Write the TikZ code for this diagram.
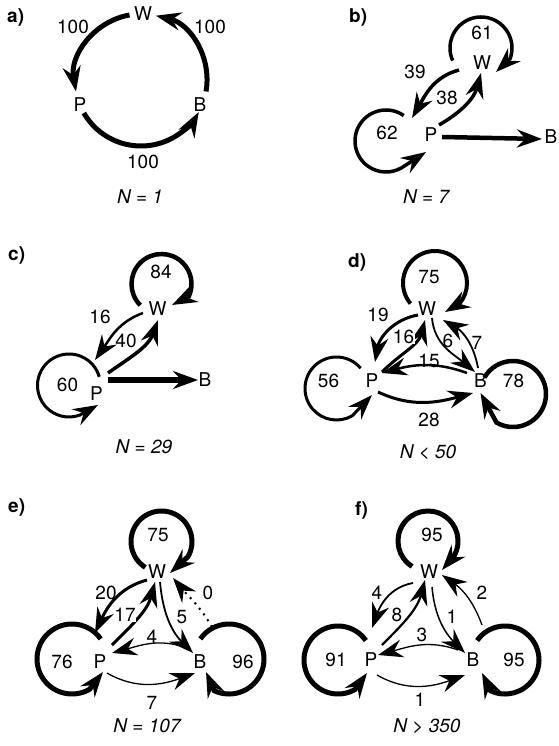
\documentclass[tikz,border=0pt]{standalone}
\usepackage{fontspec}
\setmainfont{TeX Gyre Heros}
\usetikzlibrary{arrows.meta}
\tikzset{
  arr/.style={-{Stealth[length=25pt,width=18pt,inset=8.5pt]}},
  st/.style={inner sep=0pt, font=\fontsize{19}{22}\selectfont},
  lbl/.style={inner sep=0.5pt, font=\fontsize{19}{22}\selectfont},
  wlbl/.style={lbl, fill=white},
  ttl/.style={inner sep=0pt, anchor=west, font=\fontsize{19}{22}\selectfont\bfseries},
  capn/.style={inner sep=0pt, font=\fontsize{19}{22}\selectfont\itshape},
}
% center, radius, start angle, end angle, tip, width
\newcommand\sloop[6]{%
  \draw[arr, line width=#6] ([shift={(#3:#2)}]#1) arc[start angle=#3, end angle=#4, radius=#2] -- #5;}
\begin{document}
\begin{tikzpicture}[x=1pt,y=1pt]
\useasboundingbox (0,0) rectangle (558,-746);

% ---------------- a)
\node[ttl] (ta) at (7,-17) {a)};
\node[st] (aW) at (143,-14) {W};
\node[st] (aP) at (80,-105) {P};
\node[st] (aB) at (200,-105) {B};
\coordinate (ac) at (141,-80);
\draw[arr, line width=5pt] ([shift={(100:66)}]ac) arc[start angle=100, end angle=190, radius=66];
\draw[arr, line width=5pt] ([shift={(210:66)}]ac) arc[start angle=210, end angle=331, radius=66];
\draw[arr, line width=5pt] ([shift={(-10:66)}]ac) arc[start angle=-10, end angle=77, radius=66];
\node[lbl] (a1) at (73,-27) {100};
\node[lbl] (a2) at (210,-27) {100};
\node[lbl] (a3) at (143,-162) {100};
\node[capn] (ca) at (140,-197) {N = 1};

% ---------------- b)
\node[ttl] (tb) at (349,-17) {b)};
\node[st] (bW) at (482,-63) {W};
\node[st] (bP) at (431,-135) {P};
\node[st] (bB) at (551,-137) {B};
\coordinate (bWc) at (481,-48);
\coordinate (bPc) at (386,-141);
\sloop{bWc}{31}{204}{-20}{([shift={(14,-9)}]bW.center)}{3.5pt}
\sloop{bPc}{31}{55}{300}{([shift={(-5,-17)}]bP.center)}{3.5pt}
\draw[arr, line width=3.5pt] ([shift={(-23,-7)}]bW.center) to[out=195,in=60] ([shift={(-19,17)}]bP.center);
\draw[arr, line width=3.5pt] ([shift={(8,10)}]bP.center) to[out=30,in=255] ([shift={(-1,-10)}]bW.center);
\draw[arr, line width=4.5pt] ([shift={(11,-2)}]bP.center) -- ([shift={(-9,-2)}]bB.center);
\node[lbl] (b1) at (482,-33) {61};
\node[lbl] (b2) at (387,-133) {62};
\node[lbl] (b3) at (415,-72) {39};
\node[lbl] (b4) at (447,-98) {38};
\node[capn] (cb) at (426,-197) {N = 7};

% ---------------- c)
\node[ttl] (tc) at (8,-255) {c)};
\node[st] (cW) at (157.5,-308.5) {W};
\node[st] (cP) at (96.5,-393.5) {P};
\node[st] (cB) at (205,-380) {B};
\coordinate (cWc) at (161.5,-284);
\coordinate (cPc) at (69,-385.5);
\sloop{cWc}{30}{225}{-25}{([shift={(14.5,3.5)}]cW.center)}{4.5pt}
\sloop{cPc}{31.5}{16}{290}{([shift={(1.5,-11.5)}]cP.center)}{3pt}
\draw[arr, line width=2.5pt] ([shift={(-14.5,-4.5)}]cW.center) to[out=200,in=55] ([shift={(-1.5,33.5)}]cP.center);
\draw[arr, line width=3.5pt] ([shift={(11.5,20.5)}]cP.center) to[out=35,in=250] ([shift={(0.5,-11.5)}]cW.center);
\draw[arr, line width=5.5pt] ([shift={(11.5,13.5)}]cP.center) -- ([shift={(-7,0)}]cB.center);
\node[lbl] (c1) at (161,-272) {84};
\node[lbl] (c2) at (67.5,-385) {60};
\node[lbl] (c3) at (100,-317) {16};
\node[lbl] (c4) at (126,-341) {40};
\node[capn] (cc) at (144,-447) {N = 29};

% ---------------- d)
\node[ttl] (td) at (348,-262) {d)};
\node[st] (dW) at (427,-309) {W};
\node[st] (dP) at (372,-381) {P};
\node[st] (dB) at (480.5,-381) {B};
\coordinate (dWc) at (435,-283);
\coordinate (dPc) at (336.5,-388.5);
\coordinate (dBc) at (513,-394);
\sloop{dWc}{32}{220}{-40}{([shift={(18,-3)}]dW.center)}{4pt}
\sloop{dPc}{31.5}{40}{300}{([shift={(0,-14)}]dP.center)}{3pt}
\sloop{dBc}{33}{150}{-120}{([shift={(0,-12)}]dB.center)}{4.5pt}
\draw[arr, line width=3pt] ([shift={(-9,-6)}]dW.center) to[out=190,in=80] ([shift={(3,19)}]dP.center);
\draw[arr, line width=3pt] ([shift={(10,9)}]dP.center) to[out=45,in=255] ([shift={(-2,-11)}]dW.center);
\draw[arr, line width=1.8pt] ([shift={(5,-9)}]dW.center) to[out=-85,in=140] ([shift={(-5.5,9)}]dB.center);
\draw[arr, line width=1.8pt] ([shift={(-2.5,13)}]dB.center) to[out=100,in=-30] ([shift={(16,-11)}]dW.center);
\draw[arr, line width=2.5pt] ([shift={(-13.5,8)}]dB.center) to[out=160,in=15] ([shift={(10,8)}]dP.center);
\draw[arr, line width=3pt] ([shift={(6,-11)}]dP.center) to[out=-25,in=195] ([shift={(-7.5,-12)}]dB.center);
\node[lbl] (d1) at (429,-277) {75};
\node[lbl] (d2) at (328.5,-381) {56};
\node[lbl] (d3) at (513.5,-381) {78};
\node[lbl] (d4) at (378,-315) {19};
\node[wlbl] (d5) at (403.5,-337) {16};
\node[lbl] (d6) at (448,-341) {6};
\node[lbl] (d7) at (477,-343) {7};
\node[lbl] (d8) at (429,-361) {15};
\node[lbl] (d9) at (429,-420) {28};
\node[capn] (cd) at (428,-452) {N < 50};

% ---------------- e)
\node[ttl] (te) at (8,-507) {e)};
\node[st] (eW) at (157,-572) {W};
\node[st] (eP) at (100,-662) {P};
\node[st] (eB) at (200,-662) {B};
\coordinate (eWc) at (161.5,-541.5);
\coordinate (ePc) at (72,-659);
\coordinate (eBc) at (229,-659);
\sloop{eWc}{30.5}{238}{-30}{([shift={(13,-1)}]eW.center)}{5pt}
\sloop{ePc}{35}{35}{300}{([shift={(3,-10)}]eP.center)}{5pt}
\sloop{eBc}{35}{145}{-115}{([shift={(6,-10)}]eB.center)}{5pt}
\draw[arr, line width=3pt] ([shift={(-10,-8)}]eW.center) to[out=195,in=65] ([shift={(-5,29)}]eP.center);
\draw[arr, line width=3pt] ([shift={(12,17)}]eP.center) to[out=45,in=255] ([shift={(-2,-10)}]eW.center);
\draw[arr, line width=1.8pt] ([shift={(3,-10)}]eW.center) to[out=-85,in=135] ([shift={(-7,9)}]eB.center);
\draw[arr, line width=2pt, dash pattern=on 2pt off 5pt] ([shift={(12,35)}]eB.center) to[out=120,in=-50] ([shift={(16,-6)}]eW.center);
\draw[arr, line width=1.3pt] ([shift={(-13,14)}]eB.center) to[out=160,in=15] ([shift={(12,9)}]eP.center);
\draw[arr, line width=1.3pt] ([shift={(7,-11)}]eP.center) to[out=-30,in=200] ([shift={(-5,-11)}]eB.center);
\node[lbl] (e1) at (158,-535) {75};
\node[lbl] (e2) at (106,-593) {20};
\node[wlbl] (e3) at (125,-615) {17};
\node[lbl] (e4) at (208,-593) {0};
\node[lbl] (e5) at (182,-617) {5};
\node[lbl] (e6) at (152,-637) {4};
\node[lbl] (e7) at (62,-662) {76};
\node[lbl] (e8) at (243,-662) {96};
\node[lbl] (e9) at (152,-703) {7};
\node[capn] (ce) at (147,-726) {N = 107};

% ---------------- f)
\node[ttl] (tf) at (355,-510) {f)};
\node[st] (fW) at (429,-572) {W};
\node[st] (fP) at (371,-660) {P};
\node[st] (fB) at (473,-660) {B};
\coordinate (fWc) at (428,-541);
\coordinate (fPc) at (338,-660);
\coordinate (fBc) at (505,-660);
\sloop{fWc}{30}{238}{-30}{([shift={(13,2)}]fW.center)}{5pt}
\sloop{fPc}{34}{35}{300}{([shift={(-4,-13)}]fP.center)}{5pt}
\sloop{fBc}{34}{145}{-115}{([shift={(9,-13)}]fB.center)}{5pt}
\draw[arr, line width=1.8pt] ([shift={(-16,-11)}]fW.center) to[out=190,in=70] ([shift={(1,32)}]fP.center);
\draw[arr, line width=2.2pt] ([shift={(11,15)}]fP.center) to[out=45,in=255] ([shift={(-4,-8)}]fW.center);
\draw[arr, line width=1.5pt] ([shift={(3,-15)}]fW.center) to[out=-85,in=135] ([shift={(-8,7)}]fB.center);
\draw[arr, line width=1.3pt] ([shift={(9,35)}]fB.center) to[out=110,in=-35] ([shift={(13,-3)}]fW.center);
\draw[arr, line width=1.3pt] ([shift={(-15,10)}]fB.center) to[out=160,in=15] ([shift={(7,5)}]fP.center);
\draw[arr, line width=1.3pt] ([shift={(6,-15)}]fP.center) to[out=-30,in=200] ([shift={(-8,-15)}]fB.center);
\node[lbl] (f1) at (432,-535) {95};
\node[lbl] (f2) at (377,-593) {4};
\node[wlbl] (f3) at (397,-615) {8};
\node[lbl] (f4) at (482,-593) {2};
\node[lbl] (f5) at (452,-617) {1};
\node[lbl] (f6) at (422,-635) {3};
\node[lbl] (f7) at (336,-660) {91};
\node[lbl] (f8) at (514,-660) {95};
\node[lbl] (f9) at (420,-700) {1};
\node[capn] (cf) at (427,-726) {N > 350};
\end{tikzpicture}
\end{document}
